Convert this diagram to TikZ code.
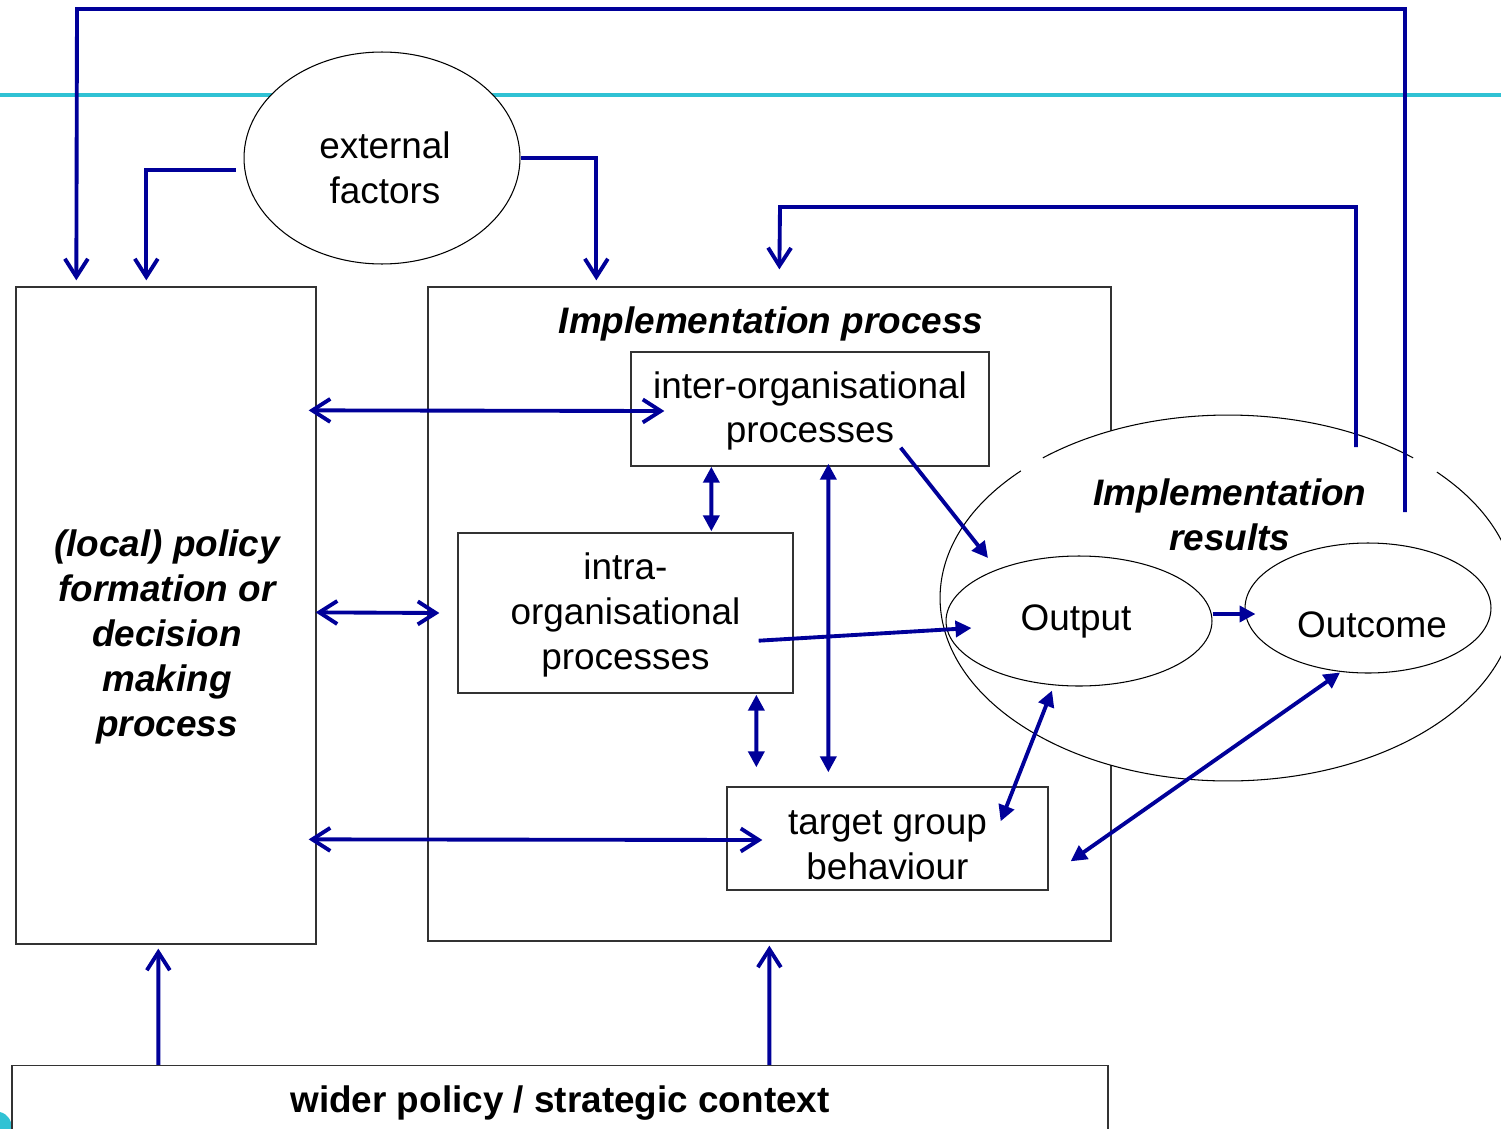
\documentclass[tikz,border=0pt]{standalone}
\usepackage{fontspec}
\setmainfont{Liberation Sans}
\definecolor{linkBlue}{RGB}{0,0,153}
\definecolor{bandTeal}{RGB}{48,194,212}
\usetikzlibrary{arrows.meta,positioning,shapes.geometric,calc}

\begin{document}
\begin{tikzpicture}[
                x=0.02cm, y=-0.02cm,
                box/.style={draw=black!80, line width=0.8pt, inner sep=0pt},
                oval/.style={ellipse, draw, line width=0.6pt, inner sep=0pt, fill=white},
                txt/.style={font=\fontsize{21}{25.5}\selectfont, align=center},
                hdr/.style={font=\fontsize{21}{25.5}\selectfont\bfseries\itshape, align=center},
                fb/.style={-{Straight Barb[length=3.6mm,width=4.6mm]}, line width=2.2pt, linkBlue},
                fbb/.style={{Straight Barb[length=3.6mm,width=4.6mm]}-{Straight Barb[length=3.6mm,width=4.6mm]}, line width=2.2pt, linkBlue},
                lnk/.style={-{Triangle[length=3.2mm,width=3.2mm]}, line width=2.2pt, linkBlue},
                lnkb/.style={{Triangle[length=3.2mm,width=3.2mm]}-{Triangle[length=3.2mm,width=3.2mm]}, line width=2.2pt, linkBlue}
            ]
            \useasboundingbox (0,0) rectangle (1501,1129);

            % slide decoration
            \draw[bandTeal, line width=2.8pt] (0,95) -- (1501,95);
            \fill[bandTeal] (0,1112) .. controls (8,1114) and (12,1121) .. (12,1129) -- (0,1129) -- cycle;

            % boxes
            \node[box, minimum width=6cm, minimum height=13.14cm] (policy) at (166,615.5) {};
            \node[hdr] (policyTxt) at (167,637) {(local) policy\\formation or\\decision\\making\\process};
            \node[box, minimum width=13.66cm, minimum height=13.08cm] (impl) at (769.5,614) {};
            \node[hdr] (implTxt) at (771,324) {Implementation process};
            \node[box, minimum width=7.16cm, minimum height=2.28cm] (inter) at (810,409) {};
            \node[txt] (interTxt) at (810,411) {inter-organisational\\processes};
            \node[box, minimum width=6.7cm, minimum height=3.2cm] (intra) at (625.5,613) {};
            \node[txt] (intraTxt) at (625.5,615) {intra-\\organisational\\processes};
            \node[box, minimum width=6.42cm, minimum height=2.06cm] (target) at (887.5,838.5) {};
            \node[txt] (targetTxt) at (887.5,845) {target group\\behaviour};
            \node[box, minimum width=21.92cm, minimum height=1.9cm] (wider) at (560,1113) {};
            \node[txt, font=\fontsize{21}{25.5}\selectfont\bfseries] (widerTxt) at (560,1103) {wider policy / strategic context};

            % ellipses
            \node[oval, minimum width=5.52cm, minimum height=4.24cm] (ext) at (382,158) {};
            \node[txt] (extTxt) at (385,168) {external\\factors};
            \node[ellipse, fill=white, inner sep=0pt, minimum width=11.52cm, minimum height=7.32cm] (res) at (1228,598) {};
            \draw[line width=0.6pt] (res.center) ++(50:5.76cm and 3.66cm)
                arc[start angle=50, end angle=130, x radius=5.76cm, y radius=3.66cm];
            \draw[line width=0.6pt] (res.center) ++(136:5.76cm and 3.66cm)
                arc[start angle=136, end angle=403.5, x radius=5.76cm, y radius=3.66cm];
            \node[hdr] (resTxt) at (1230,515) {Implementation\\results};
            \node[oval, minimum width=5.32cm, minimum height=2.6cm] (outp) at (1079,621) {};
            \node[txt] (outpTxt) at (1076,621) {Output};
            \node[oval, minimum width=4.92cm, minimum height=2.6cm] (outc) at (1368,608) {};
            \node[txt] (outcTxt) at (1372,625) {Outcome};

            % feedback loops
            \draw[fb] ($(res)+(177,-86)$) |- (77,9) -- ($(policy.north west)+(61,-6)$);
            \draw[fb] ($(res)+(128,-151)$) |- (780,207) -- ($(impl.north west)+(352,-17)$);
            \draw[fb] ($(ext.west)+(-8,12)$) -| ($(policy.north west)+(131,-6)$);
            \draw[fb] (ext.east) -| ($(impl.north west)+(169,-6)$);

            % policy <-> implementation
            \draw[fbb] ($(policy.north east)+(-8,124)$) -- ($(inter.west)+(34,2)$);
            \draw[fbb] ($(policy.north east)+(-1,326)$) -- ($(intra.west)+(-18,0)$);
            \draw[fbb] ($(policy.north east)+(-8,553)$) -- ($(target.west)+(36,1.5)$);

            % inside the implementation process
            \draw[lnkb] ($(inter.south west)+(81,0)$) -- ($(intra.north west)+(254,-1)$);
            \draw[lnkb] ($(intra.south west)+(299,1)$) -- ($(target.north west)+(30,-19)$);
            \draw[lnkb] ($(inter.south west)+(198,-3)$) -- ($(target.north west)+(102,-14)$);
            \draw[lnk] ($(inter.south east)+(-89,-19)$) -- ($(outp)+(-91,-63)$);
            \draw[lnk] ($(intra.south east)+(-35,-53)$) -- ($(outp.west)+(26,7)$);
            \draw[lnk] ($(outp.east)+(0,-7)$) -- ($(outc.west)+(11,6)$);
            \draw[lnkb] ($(outp.south)+(-27,4)$) -- ($(target.north east)+(-48,35)$);
            \draw[lnkb] ($(outc.south)+(-28,-1)$) -- ($(target.north east)+(22,75)$);

            % wider context
            \draw[fb] ($(wider.north west)+(147,0)$) -- ($(policy.south west)+(143,4)$);
            \draw[fb] ($(wider.north west)+(758,0)$) -- ($(impl.south west)+(342,4)$);
        \end{tikzpicture}
\end{document}
